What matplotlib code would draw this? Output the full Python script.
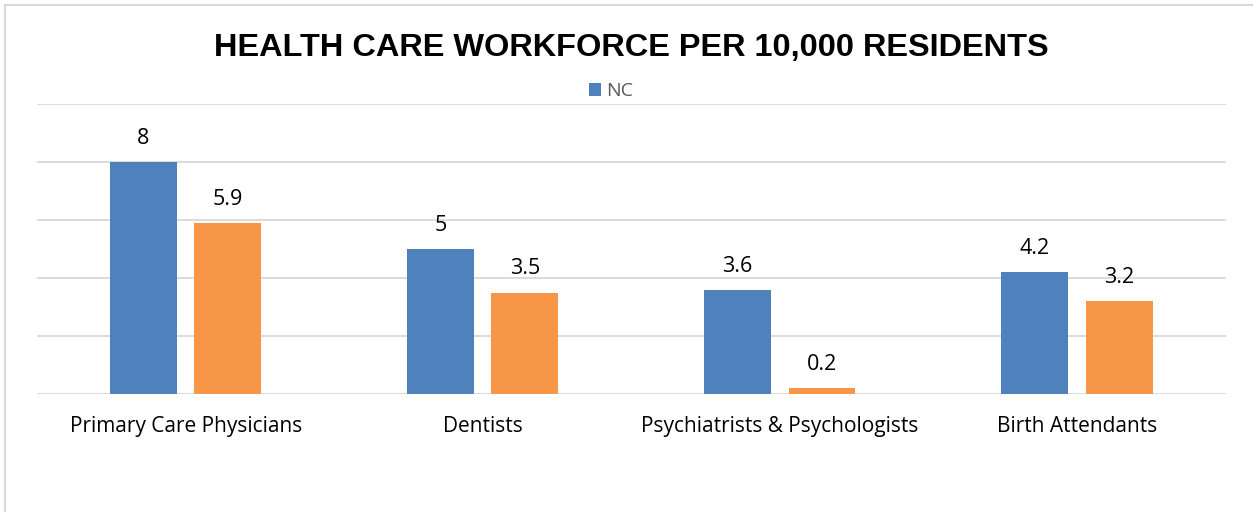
import matplotlib
import matplotlib.pyplot as plt
import numpy as np
from matplotlib.patches import Rectangle

matplotlib.use("Agg")

categories = ["Primary Care Physicians", "Dentists", "Psychiatrists & Psychologists", "Birth Attendants"]
nc_values = [8, 5, 3.6, 4.2]
other_values = [5.9, 3.5, 0.2, 3.2]
nc_labels = ["8", "5", "3.6", "4.2"]
other_labels = ["5.9", "3.5", "0.2", "3.2"]

BLUE = "#4F81BD"
ORANGE = "#F79646"
GRID = "#D9D9D9"

W, H = 1253, 512
fig = plt.figure(figsize=(W / 100, H / 100), dpi=100)

# Cadre gris du graphique (coupe a droite et en bas)
fig.patches.append(Rectangle((5 / W, -0.1), 1.2, 1 - 5 / H + 0.1, transform=fig.transFigure,
                             fill=False, edgecolor=GRID, linewidth=1.5))

ax = fig.add_axes([37 / W, 1 - 394 / H, (1226 - 37) / W, (394 - 104) / H])
x = np.arange(len(categories))
width = 0.225
b1 = ax.bar(x - 0.143, nc_values, width, color=BLUE, label="NC", zorder=3)
b2 = ax.bar(x + 0.141, other_values, width, color=ORANGE, zorder=3)

# Etiquettes de valeurs au-dessus des barres
for bars, labels in ((b1, nc_labels), (b2, other_labels)):
    for rect, lab in zip(bars, labels):
        ax.annotate(lab, (rect.get_x() + rect.get_width() / 2, rect.get_height()),
                    xytext=(0, 13), textcoords="offset points", ha="center", va="baseline",
                    fontsize=15.5, family="Open Sans", color="#000000")

ax.set_xlim(-0.5, len(categories) - 0.5)
ax.set_ylim(0, 10)
ax.set_yticks(np.arange(0, 11, 2))
ax.set_yticklabels([])
ax.tick_params(axis="y", length=0)
ax.tick_params(axis="x", length=0, pad=16)
ax.set_xticks(x)
ax.set_xticklabels(categories, fontsize=15, family="Open Sans", color="#000000")
ax.grid(axis="y", color=GRID, linewidth=1.3, zorder=0)
for s in ax.spines.values():
    s.set_visible(False)

fig.text(631 / W, 1 - 48 / H, "HEALTH CARE WORKFORCE PER 10,000 RESIDENTS",
         ha="center", va="center", fontsize=23.4, fontweight="bold", family="Liberation Sans")

fig.legend(handles=[b1], loc="center", bbox_to_anchor=(611 / W, 1 - 91 / H), frameon=False,
           prop={"family": "Open Sans", "size": 14}, handlelength=0.65, handleheight=0.65,
           handletextpad=0.25, labelcolor="#595959")

fig.savefig("out.png", dpi=100)
